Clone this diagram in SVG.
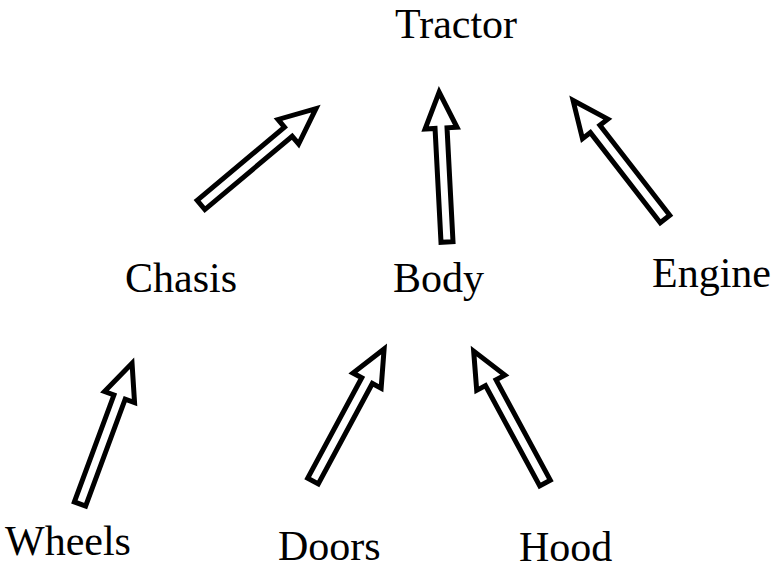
<svg xmlns="http://www.w3.org/2000/svg" xmlns:xlink="http://www.w3.org/1999/xlink" width="772" height="570" viewBox="0 0 772 570">
<style>
.lbl{font-family:"Liberation Serif","Times New Roman",serif;font-size:42px;fill:#000}
.arr{fill:#fff;stroke:#000;stroke-width:5;stroke-linejoin:miter}
</style>
<defs>
<polygon id="blk" class="arr" points="0,-6 114,-6 114,-16 150,0 114,16 114,6 0,6"/>
</defs>
<rect width="772" height="570" fill="#fff"/>
<g id="connectors">
<use xlink:href="#blk" href="#blk" transform="translate(201,205) rotate(-40)"/>
<use xlink:href="#blk" href="#blk" transform="translate(447,242) rotate(-93)"/>
<use xlink:href="#blk" href="#blk" transform="translate(665,219) rotate(-127.8)"/>
<use xlink:href="#blk" href="#blk" transform="translate(80,504) rotate(-69.7)"/>
<use xlink:href="#blk" href="#blk" transform="translate(313,481) rotate(-61.7)"/>
<use xlink:href="#blk" href="#blk" transform="translate(545,483) rotate(-118.4)"/>
</g>
<g id="tractor"><text class="lbl" x="395" y="38">Tractor</text></g>
<g id="chasis"><text class="lbl" x="125" y="292">Chasis</text></g>
<g id="body"><text class="lbl" x="393" y="292">Body</text></g>
<g id="engine"><text class="lbl" x="652" y="287">Engine</text></g>
<g id="wheels"><text class="lbl" x="5" y="555">Wheels</text></g>
<g id="doors"><text class="lbl" x="278" y="560">Doors</text></g>
<g id="hood"><text class="lbl" x="519" y="561">Hood</text></g>
</svg>
